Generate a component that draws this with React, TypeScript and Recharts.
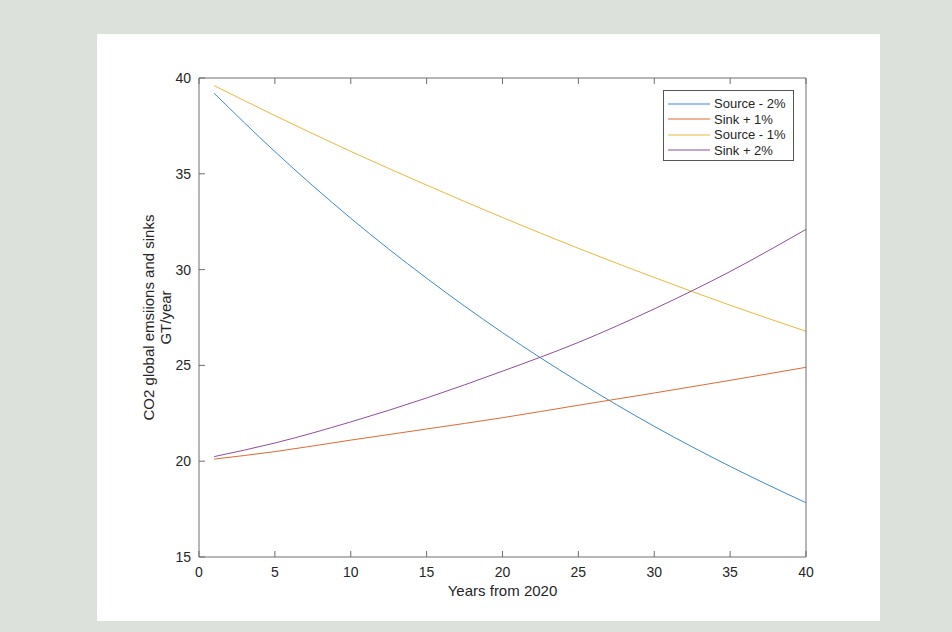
import React from 'react'
import { LineChart, Line, XAxis, YAxis, Legend } from 'recharts'

// years from 2020 and the four scenario curves (GT/year)
const years = [1, 5, 10, 15, 20, 25, 30, 35, 40]
const sourceMinus2 = [39.2, 36.16, 32.68, 29.55, 26.71, 24.15, 21.82, 19.73, 17.83]
const sinkPlus1 = [20.11, 20.5, 21.1, 21.68, 22.27, 22.92, 23.56, 24.22, 24.9]
const sourceMinus1 = [39.6, 38.04, 36.17, 34.41, 32.72, 31.11, 29.59, 28.14, 26.78]
const sinkPlus2 = [20.24, 20.95, 22.05, 23.3, 24.7, 26.2, 27.95, 29.9, 32.1]

const seriesNames = ['Source - 2%', 'Sink + 1%', 'Source - 1%', 'Sink + 2%']
const xTicks = [0, 5, 10, 15, 20, 25, 30, 35, 40]
const yTicks = [15, 20, 25, 30, 35, 40]

const data = years.map((t, i) => ({
  t,
  s2: sourceMinus2[i],
  k1: sinkPlus1[i],
  s1: sourceMinus1[i],
  k2: sinkPlus2[i],
}))

const FONT = '"Liberation Sans", Arial, Helvetica, sans-serif'
const TEXT = '#262626'
const AXIS = '#6e6e6e'
const TICK_LEN = 6

function BottomTick(props: any) {
  const { x, y, payload } = props
  return (
    <g>
      <line x1={x} x2={x} y1={y} y2={y - TICK_LEN} stroke={AXIS} strokeWidth={1} />
      <text x={x} y={y + 20} textAnchor="middle" fontSize={14} fill={TEXT} fontFamily={FONT}>
        {payload.value}
      </text>
    </g>
  )
}

function TopTick(props: any) {
  const { x, y } = props
  return <line x1={x} x2={x} y1={y} y2={y + TICK_LEN} stroke={AXIS} strokeWidth={1} />
}

function LeftTick(props: any) {
  const { x, y, payload } = props
  return (
    <g>
      <line x1={x} x2={x + TICK_LEN} y1={y} y2={y} stroke={AXIS} strokeWidth={1} />
      <text x={x - 8} y={y + 5} textAnchor="end" fontSize={14} fill={TEXT} fontFamily={FONT}>
        {payload.value}
      </text>
    </g>
  )
}

function RightTick(props: any) {
  const { x, y } = props
  return <line x1={x} x2={x - TICK_LEN} y1={y} y2={y} stroke={AXIS} strokeWidth={1} />
}

function YLabel(props: any) {
  const { x, y, height } = props.viewBox
  const cy = y + height / 2
  const x1 = x + 9
  const x2 = x + 26
  return (
    <g fontFamily={FONT} fontSize={15} fill={TEXT}>
      <text x={x1} y={cy} textAnchor="middle" dominantBaseline="central" transform={`rotate(-90, ${x1}, ${cy})`}>
        CO2 global emsiions and sinks
      </text>
      <text x={x2} y={cy} textAnchor="middle" dominantBaseline="central" transform={`rotate(-90, ${x2}, ${cy})`}>
        GT/year
      </text>
    </g>
  )
}

function XLabel(props: any) {
  const { x, y, width } = props.viewBox
  return (
    <text x={x + width / 2} y={y + 39} textAnchor="middle" fontFamily={FONT} fontSize={15} fill={TEXT}>
      Years from 2020
    </text>
  )
}

function LegendBox(props: any) {
  const items = [...(props.payload || [])].sort(
    (a: any, b: any) => seriesNames.indexOf(a.value) - seriesNames.indexOf(b.value)
  )
  return (
    <div
      style={{
        width: 131,
        height: 71,
        boxSizing: 'border-box',
        border: '1px solid #555',
        background: '#fff',
        paddingTop: 5,
        fontFamily: FONT,
        fontSize: 13,
        color: TEXT,
      }}
    >
      {items.map((entry: any) => (
        <div key={entry.value} style={{ display: 'flex', alignItems: 'center', height: 15.5 }}>
          <svg width={48} height={4} style={{ display: 'block' }}>
            <line x1={4} x2={46} y1={2} y2={2} stroke={entry.color} strokeWidth={1.2} />
          </svg>
          <span style={{ marginLeft: 2, lineHeight: '15px' }}>{entry.value}</span>
        </div>
      ))}
    </div>
  )
}

export default function App() {
  return (
    <div
      style={{
        position: 'absolute',
        left: 0,
        top: 0,
        width: 952,
        height: 632,
        background: '#dce1dc',
        overflow: 'hidden',
      }}
    >
      <div style={{ position: 'absolute', left: 97, top: 34, width: 783, height: 587, background: '#fff' }}>
        <LineChart width={783} height={587} data={data} margin={{ top: 43, right: 73, bottom: 14, left: 42 }}>
          <XAxis
            dataKey="t"
            type="number"
            domain={[0, 40]}
            ticks={xTicks}
            interval={0}
            height={50}
            tickSize={0}
            tickMargin={0}
            tickLine={false}
            axisLine={{ stroke: AXIS }}
            tick={<BottomTick />}
            label={<XLabel />}
          />
          <XAxis
            xAxisId="top"
            orientation="top"
            dataKey="t"
            type="number"
            domain={[0, 40]}
            ticks={xTicks}
            interval={0}
            height={1}
            tickSize={0}
            tickMargin={0}
            tickLine={false}
            axisLine={{ stroke: AXIS }}
            tick={<TopTick />}
          />
          <YAxis
            type="number"
            domain={[15, 40]}
            ticks={yTicks}
            interval={0}
            width={60}
            tickSize={0}
            tickMargin={0}
            tickLine={false}
            axisLine={{ stroke: AXIS }}
            tick={<LeftTick />}
            label={<YLabel />}
          />
          <YAxis
            yAxisId="right"
            orientation="right"
            type="number"
            domain={[15, 40]}
            ticks={yTicks}
            interval={0}
            width={1}
            tickSize={0}
            tickMargin={0}
            tickLine={false}
            axisLine={{ stroke: AXIS }}
            tick={<RightTick />}
          />
          <Legend
            layout="vertical"
            align="center"
            verticalAlign="middle"
            content={<LegendBox />}
            wrapperStyle={{ left: 566, top: 56, width: 131, height: 71 }}
          />
          <Line name="Source - 2%" dataKey="s2" type="monotone" stroke="#3f88c9" strokeWidth={1} dot={false} isAnimationActive={false} />
          <Line name="Sink + 1%" dataKey="k1" type="monotone" stroke="#de6a36" strokeWidth={1} dot={false} isAnimationActive={false} />
          <Line name="Source - 1%" dataKey="s1" type="monotone" stroke="#e9b93e" strokeWidth={1} dot={false} isAnimationActive={false} />
          <Line name="Sink + 2%" dataKey="k2" type="monotone" stroke="#8e4f9c" strokeWidth={1} dot={false} isAnimationActive={false} />
        </LineChart>
      </div>
    </div>
  )
}
